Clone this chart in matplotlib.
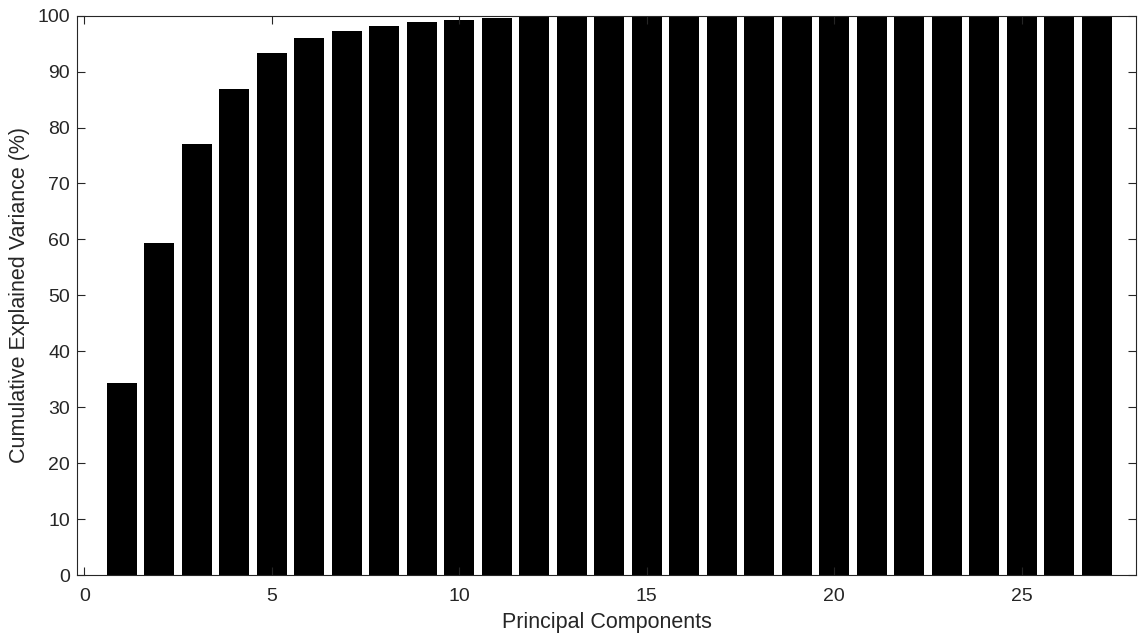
import numpy as np
from matplotlib import pyplot as plt

# cumulative explained variance per principal component (%)
components = np.arange(1, 28)
cum_variance = [34.4, 59.3, 77.0, 86.9, 93.4, 96.0, 97.3, 98.1, 98.8, 99.2,
                99.5, 99.8, 100.0, 100.0, 100.0, 100.0, 100.0, 100.0, 100.0,
                100.0, 100.0, 100.0, 100.0, 100.0, 100.0, 100.0, 100.0]

plt.rcParams['font.family'] = ['Liberation Sans', 'DejaVu Sans']
axis_col = (0.15, 0.15, 0.15)

fig = plt.figure(figsize=(11.4, 6.39), dpi=100)
ax = fig.add_axes([0.0675, 0.100, 0.929, 0.8755])

ax.bar(components, cum_variance, width=0.8, color='black')

ax.set_xlim(-0.2, 28.05)
ax.set_ylim(0, 100)
ax.set_xticks(range(0, 26, 5))
ax.set_yticks(range(0, 101, 10))

ax.tick_params(direction='in', top=True, right=True, length=6, width=0.8,
               colors=axis_col, labelsize=14)
ax.tick_params(axis='x', pad=9)
ax.tick_params(axis='y', pad=5)
for s in ax.spines.values():
    s.set_color(axis_col)
    s.set_linewidth(0.8)

ax.set_xlabel('Principal Components', fontsize=15.5, color=axis_col, labelpad=5)
ax.set_ylabel('Cumulative Explained Variance (%)', fontsize=15.5, color=axis_col, labelpad=5)

plt.savefig('out.png', dpi=100)
